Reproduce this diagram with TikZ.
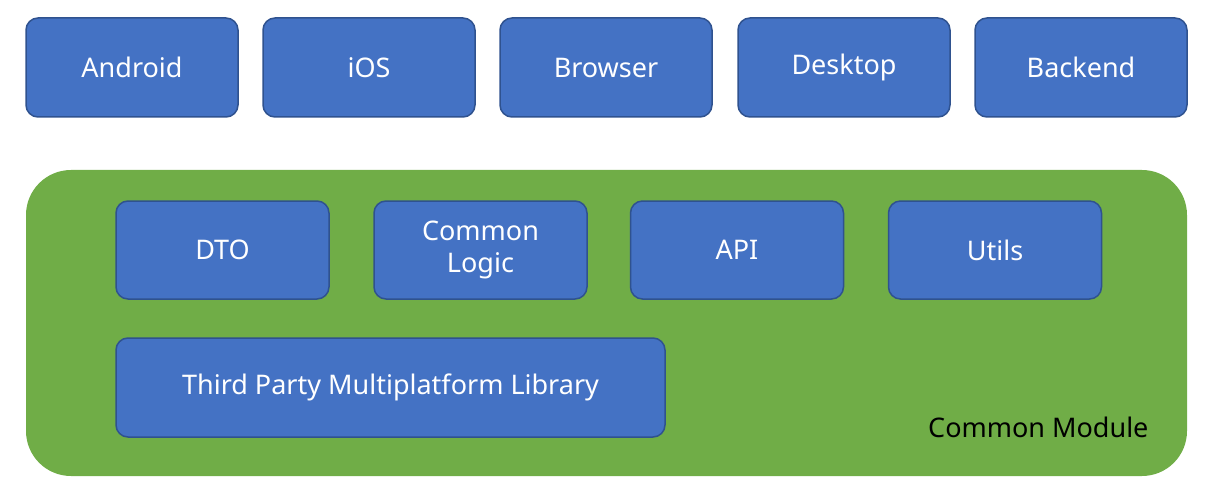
\documentclass[tikz,border=0pt]{standalone}
\usepackage{fontspec}
\setmainfont{Noto Sans}
\definecolor{bfill}{HTML}{4472C4}
\definecolor{bdraw}{HTML}{2F528F}
\definecolor{gfill}{HTML}{70AD47}
\begin{document}
\begin{tikzpicture}[x=1pt,y=-1pt,
 box/.style={draw=bdraw,line width=1.5pt,fill=bfill,rounded corners=12pt,text=white,align=center,font=\fontsize{27}{32}\selectfont,inner sep=0pt}]
\useasboundingbox (0,0) rectangle (1208,500);
\node[fill=gfill,rounded corners=45pt,minimum width=1161pt,minimum height=306pt,inner sep=0pt] (cm) at (606.5,323) {};
\foreach \n/\t/\x in {and/Android/132, ios/iOS/369, br/Browser/606, de/Desktop/844, be/Backend/1081}
  \node[box,minimum width=212pt,minimum height=99pt] (\n) at (\x,67.5) {\t};
\foreach \n/\t/\x in {dto/DTO/222.5, cl/{Common\\Logic}/480.5, api/API/737, ut/Utils/995}
  \node[box,minimum width=213pt,minimum height=98pt] (\n) at (\x,250) {\t};
\node[box,minimum width=549pt,minimum height=99pt] (tp) at (390.5,387.5) {Third Party Multiplatform Library};
\node[font=\fontsize{27}{32}\selectfont,anchor=east] (lbl) at (1152,427) {Common Module};
\end{tikzpicture}
\end{document}
